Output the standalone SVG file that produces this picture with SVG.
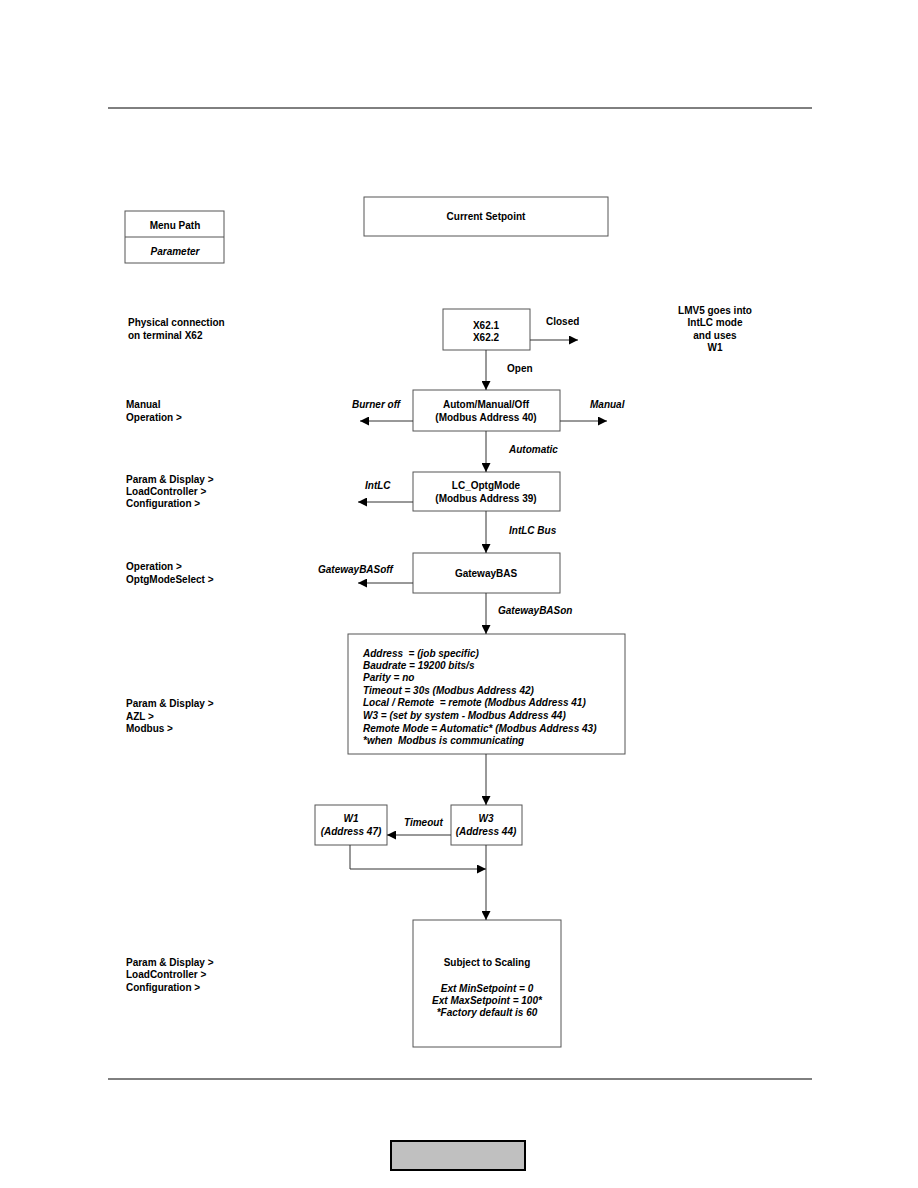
<svg xmlns="http://www.w3.org/2000/svg" width="918" height="1188" viewBox="0 0 918 1188">
<defs>
<marker id="ah" viewBox="0 0 10 10" refX="10" refY="5" markerWidth="9" markerHeight="9" markerUnits="userSpaceOnUse" orient="auto"><path d="M0,0 L10,5 L0,10 z" fill="#000"/></marker>
<style>
text{font-family:"Liberation Sans",Arial,sans-serif;font-size:10px;font-weight:bold;fill:#000}
.c{text-anchor:middle}
.i{font-style:italic}
.box{fill:#fff;stroke:#555;stroke-width:1}
.ln{fill:none;stroke:#333;stroke-width:1}
.arr{fill:none;stroke:#333;stroke-width:1;marker-end:url(#ah)}
</style>
</defs>
<rect width="918" height="1188" fill="#fff"/>
<line x1="108" y1="108" x2="812" y2="108" stroke="#000" stroke-width="1"/>
<line x1="108" y1="1079" x2="812" y2="1079" stroke="#000" stroke-width="1"/>

<g id="legend">
<rect class="box" x="125" y="211" width="99" height="52"/>
<line x1="125" y1="237" x2="224" y2="237" stroke="#555"/>
<text class="c" x="175" y="229">Menu Path</text>
<text class="c i" x="175" y="255">Parameter</text>
</g>
<g id="current">
<rect class="box" x="364" y="197" width="244" height="39"/>
<text class="c" x="486" y="220">Current Setpoint</text>
</g>

<g id="left-labels">
<text x="128" y="326">Physical connection</text>
<text x="128" y="339">on terminal X62</text>
<text x="126" y="408">Manual</text>
<text x="126" y="421">Operation &gt;</text>
<text x="126" y="483">Param &amp; Display &gt;</text>
<text x="126" y="495">LoadController &gt;</text>
<text x="126" y="507">Configuration &gt;</text>
<text x="126" y="570">Operation &gt;</text>
<text x="126" y="583">OptgModeSelect &gt;</text>
<text x="126" y="707">Param &amp; Display &gt;</text>
<text x="126" y="720">AZL &gt;</text>
<text x="126" y="732">Modbus &gt;</text>
<text x="126" y="966">Param &amp; Display &gt;</text>
<text x="126" y="978">LoadController &gt;</text>
<text x="126" y="991">Configuration &gt;</text>
</g>

<g id="x62">
<rect class="box" x="443" y="309" width="87" height="41"/>
<text class="c" x="486" y="329">X62.1</text>
<text class="c" x="486" y="341">X62.2</text>
</g>
<g id="lmv5">
<text class="c" x="715" y="314">LMV5 goes into</text>
<text class="c" x="715" y="326">IntLC mode</text>
<text class="c" x="715" y="339">and uses</text>
<text class="c" x="715" y="351">W1</text>
</g>
<g id="autom">
<rect class="box" x="413" y="390" width="147" height="41"/>
<text class="c" x="486" y="408">Autom/Manual/Off</text>
<text class="c" x="486" y="421">(Modbus Address 40)</text>
</g>
<g id="lcopt">
<rect class="box" x="413" y="472" width="147" height="39"/>
<text class="c" x="486" y="489">LC_OptgMode</text>
<text class="c" x="486" y="502">(Modbus Address 39)</text>
</g>
<g id="gateway">
<rect class="box" x="413" y="553" width="147" height="40"/>
<text class="c" x="486" y="577">GatewayBAS</text>
</g>
<g id="modbus">
<rect class="box" x="348" y="634" width="277" height="120"/>
<text class="i" x="363" y="657" xml:space="preserve">Address  = (job specific)</text>
<text class="i" x="363" y="669">Baudrate = 19200 bits/s</text>
<text class="i" x="363" y="681">Parity = no</text>
<text class="i" x="363" y="694">Timeout = 30s (Modbus Address 42)</text>
<text class="i" x="363" y="706" xml:space="preserve">Local / Remote  = remote (Modbus Address 41)</text>
<text class="i" x="363" y="719">W3 = (set by system - Modbus Address 44)</text>
<text class="i" x="363" y="732">Remote Mode = Automatic* (Modbus Address 43)</text>
<text class="i" x="363" y="744" xml:space="preserve">*when  Modbus is communicating</text>
</g>
<g id="w1">
<rect class="box" x="315" y="805" width="72" height="40"/>
<text class="c i" x="351" y="822">W1</text>
<text class="c i" x="351" y="835">(Address 47)</text>
</g>
<g id="w3">
<rect class="box" x="451" y="805" width="71" height="40"/>
<text class="c i" x="486" y="822">W3</text>
<text class="c i" x="486" y="835">(Address 44)</text>
</g>
<g id="scaling">
<rect class="box" x="413" y="920" width="148" height="127"/>
<text class="c" x="487" y="966">Subject to Scaling</text>
<text class="c i" x="487" y="992">Ext MinSetpoint = 0</text>
<text class="c i" x="487" y="1004">Ext MaxSetpoint = 100*</text>
<text class="c i" x="487" y="1016">*Factory default is 60</text>
</g>

<g id="connectors">
<line class="arr" x1="530" y1="340" x2="578" y2="340"/>
<text x="546" y="325">Closed</text>
<line class="arr" x1="486" y1="350" x2="486" y2="390"/>
<text x="507" y="372">Open</text>
<line class="arr" x1="413" y1="421" x2="360" y2="421"/>
<text class="i" x="352" y="408">Burner off</text>
<line class="arr" x1="560" y1="421" x2="607" y2="421"/>
<text class="i" x="590" y="408">Manual</text>
<line class="arr" x1="486" y1="431" x2="486" y2="472"/>
<text class="i" x="509" y="453">Automatic</text>
<line class="arr" x1="413" y1="502" x2="358" y2="502"/>
<text class="i" x="365" y="489">IntLC</text>
<line class="arr" x1="486" y1="511" x2="486" y2="553"/>
<text class="i" x="509" y="534">IntLC Bus</text>
<line class="arr" x1="413" y1="583" x2="358" y2="583" stroke-width="1.5"/>
<text class="i" x="318" y="573">GatewayBASoff</text>
<line class="arr" x1="486" y1="593" x2="486" y2="634"/>
<text class="i" x="498" y="614">GatewayBASon</text>
<line class="arr" x1="486" y1="754" x2="486" y2="805"/>
<line class="arr" x1="451" y1="835" x2="387" y2="835"/>
<text class="i" x="404" y="826">Timeout</text>
<polyline class="arr" points="350,845 350,869 486,869"/>
<line class="arr" x1="486" y1="845" x2="486" y2="920"/>
</g>

<rect x="391" y="1141" width="134" height="29" fill="#c0c0c0" stroke="#000" stroke-width="2"/>
</svg>
